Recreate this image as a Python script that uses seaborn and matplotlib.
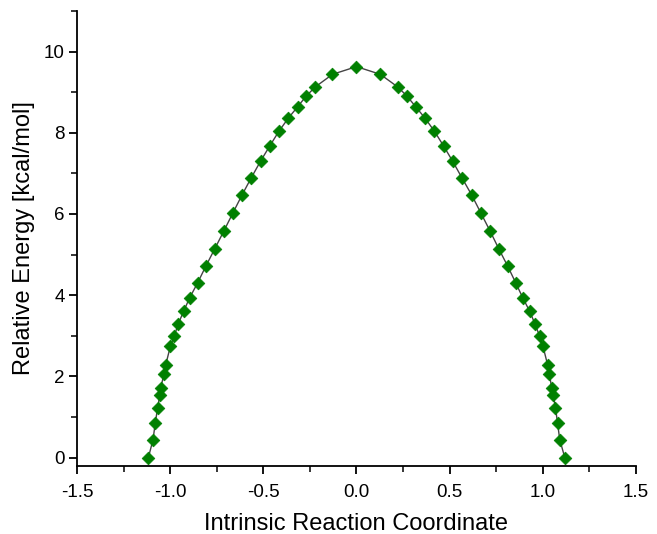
import matplotlib
matplotlib.use("Agg")
import matplotlib.pyplot as plt
import seaborn as sns
from matplotlib.ticker import MultipleLocator

# IRC path (x: reaction coordinate, y: kcal/mol)
irc_x = [
    -1.117, -1.092, -1.080, -1.067, -1.056, -1.051, -1.033, -1.024, -0.999, -0.978,
    -0.957, -0.928, -0.896, -0.852, -0.808, -0.762, -0.712, -0.664, -0.614, -0.565,
    -0.515, -0.465, -0.416, -0.366, -0.316, -0.269, -0.221, -0.129, 0.000,
    0.128, 0.221, 0.270, 0.318, 0.368, 0.418, 0.467, 0.516, 0.566, 0.618,
    0.668, 0.717, 0.765, 0.811, 0.854, 0.893, 0.930, 0.958, 0.983, 1.001,
    1.026, 1.035, 1.048, 1.056, 1.068, 1.079, 1.091, 1.118,
]
energy = [
    0.00, 0.44, 0.85, 1.23, 1.53, 1.71, 2.06, 2.28, 2.74, 2.99,
    3.29, 3.60, 3.93, 4.31, 4.72, 5.13, 5.58, 6.02, 6.47, 6.89,
    7.30, 7.68, 8.04, 8.36, 8.64, 8.91, 9.13, 9.44, 9.63,
    9.44, 9.13, 8.91, 8.64, 8.36, 8.04, 7.68, 7.30, 6.89, 6.47,
    6.02, 5.58, 5.13, 4.72, 4.31, 3.93, 3.60, 3.29, 2.99, 2.74,
    2.28, 2.06, 1.71, 1.53, 1.23, 0.85, 0.44, 0.00,
]

sns.set_style("ticks")
plt.rcParams["font.family"] = ["Liberation Sans", "DejaVu Sans"]

fig = plt.figure(figsize=(6.57, 5.34), dpi=100)
ax = fig.add_axes([0.1172, 0.1279, 0.8508, 0.8515])

sns.lineplot(x=irc_x, y=energy, sort=False, estimator=None, ax=ax,
             color="#444444", linewidth=1.0, zorder=1)
sns.scatterplot(x=irc_x, y=energy, ax=ax, marker="D", s=42,
                color="#008000", edgecolor="#008000", linewidth=0.5, zorder=2)

ax.set_xlim(-1.5, 1.5)
ax.set_ylim(-0.2, 11)
ax.xaxis.set_major_locator(MultipleLocator(0.5))
ax.xaxis.set_minor_locator(MultipleLocator(0.25))
ax.yaxis.set_major_locator(MultipleLocator(2))
ax.yaxis.set_minor_locator(MultipleLocator(1))
ax.xaxis.set_major_formatter(matplotlib.ticker.FormatStrFormatter("%.1f"))

sns.despine(ax=ax)
for side in ["left", "bottom"]:
    ax.spines[side].set_linewidth(1.3)
    ax.spines[side].set_color("black")
ax.tick_params(which="major", direction="out", length=6, width=1.3,
               labelsize=13.5, colors="black")
ax.tick_params(axis="x", which="major", pad=7)
ax.tick_params(axis="y", which="major", pad=3)
ax.tick_params(which="minor", direction="out", length=4, width=1.1, colors="black")

ax.set_xlabel("Intrinsic Reaction Coordinate", fontsize=17, labelpad=9, color="black")
ax.set_ylabel("Relative Energy [kcal/mol]", fontsize=17, labelpad=6, color="black")

fig.savefig("out.png", dpi=100)
